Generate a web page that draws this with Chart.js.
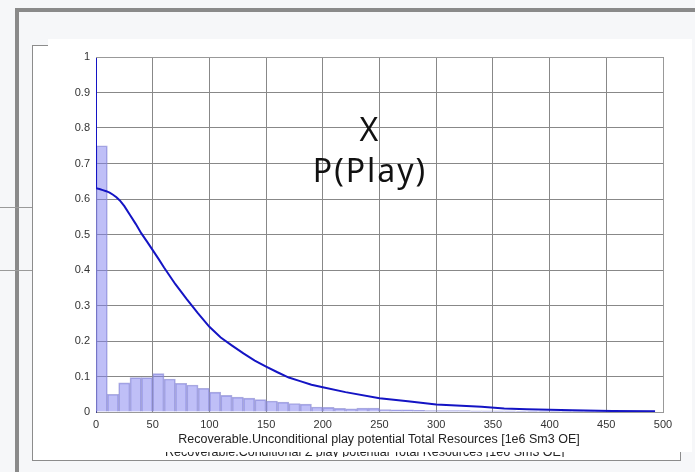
<!DOCTYPE html>
<html>
<head>
<meta charset="utf-8">
<script src="https://cdn.jsdelivr.net/npm/chart.js@4.4.1/dist/chart.umd.min.js"></script>
<style>
  html, body { margin: 0; padding: 0; }
  body { width: 695px; height: 472px; background: #f6f7f9; position: relative; overflow: hidden; font-family: "Liberation Sans", Arial, sans-serif; }
  .abs { position: absolute; box-sizing: border-box; }
  #thick { left: 15px; top: 8px; width: 720px; height: 520px; border-top: 4px solid #8a8a8a; border-left: 4px solid #8a8a8a; }
  #sidebox { left: -2px; top: 207px; width: 39px; height: 64px; border: 1px solid #9a9a9a; }
  #thinrect { left: 32px; top: 45px; width: 649px; height: 416px; border: 1px solid #8c8c8c; background: #ffffff; }
  #panel { left: 48px; top: 39px; width: 644px; height: 413px; background: #ffffff; }
  #chartwrap { left: 0; top: 0; width: 695px; height: 472px; }
  .ann { position: absolute; color: #111; font-family: "Noto Sans", "Open Sans", sans-serif; font-size: 32px; letter-spacing: 2px; white-space: nowrap; line-height: 1; transform: translateX(-50%); }
  .xtitle { position: absolute; color: #222; font-size: 12.5px; white-space: nowrap; line-height: 1; }
  #clip2 { left: 150px; top: 452px; width: 440px; height: 5px; overflow: hidden; }
</style>
</head>
<body>
<div id="thick" class="abs"></div>
<div id="sidebox" class="abs"></div>
<div id="thinrect" class="abs"></div>
<div id="panel" class="abs"></div>
<div id="chartwrap" class="abs"><canvas id="c" width="695" height="472"></canvas></div>
<div class="ann" style="left:370px; top:113px;">X</div>
<div class="ann" style="left:370px; top:154px;">P(Play)</div>
<div class="xtitle" style="left:379px; top:433px; transform: translateX(-50%);">Recoverable.Unconditional play potential Total Resources [1e6 Sm3 OE]</div>
<div id="clip2" class="abs"><div class="xtitle" style="left:15px; top:-6px;">Recoverable.Conditional Σ play potential Total Resources [1e6 Sm3 OE]</div></div>
<script>
// Histogram bin centres (units: 1e6 Sm3 OE) and relative frequencies
const histCenters = [5, 15, 25, 35, 45, 55, 65, 75, 85, 95,
  105, 115, 125, 135, 145, 155, 165, 175, 185, 195,
  205, 215, 225, 235, 245, 255, 265, 275, 285, 295,
  305, 315, 325, 335, 345, 355, 365, 375, 385, 395,
  405, 415, 425, 435, 445, 455, 465, 475, 485, 495];
const histValues = [0.75, 0.05, 0.082, 0.097, 0.097, 0.108, 0.093, 0.081, 0.076, 0.067,
  0.056, 0.047, 0.042, 0.039, 0.035, 0.031, 0.028, 0.024, 0.022, 0.014,
  0.013, 0.010, 0.009, 0.011, 0.011, 0.007, 0.006, 0.006, 0.005, 0.004,
  0.004, 0.004, 0.004, 0.003, 0.003, 0.003, 0.003, 0.002, 0.002, 0.002,
  0.002, 0.002, 0.002, 0.001, 0.001, 0.001, 0.001, 0.001, 0.001, 0.0];

// Exceedance probability curve
const curveX = [0, 0, 3, 6, 9, 12, 15, 18, 21, 25, 30, 35, 40, 45, 50, 55, 60, 70, 80, 90, 100,
  110, 120, 130, 140, 150, 160, 170, 180, 190, 200, 220, 250, 275, 300, 340, 360, 380, 420, 455, 493];
const curveY = [1.0, 0.63, 0.628, 0.625, 0.622, 0.618, 0.612, 0.605, 0.596, 0.58, 0.555, 0.53, 0.503, 0.48, 0.456, 0.432, 0.407, 0.36, 0.318, 0.278, 0.24,
  0.21, 0.187, 0.165, 0.145, 0.128, 0.112, 0.097, 0.087, 0.077, 0.070, 0.056, 0.039, 0.030, 0.021, 0.015, 0.010, 0.0075, 0.005, 0.003, 0.002];

// Axis ticks
const xTicks = [0, 50, 100, 150, 200, 250, 300, 350, 400, 450, 500];
const yTicks = [0, 0.1, 0.2, 0.3, 0.4, 0.5, 0.6, 0.7, 0.8, 0.9, 1];

const histData = histCenters.map((x, i) => ({ x: x, y: histValues[i] }));
const curveData = curveX.map((x, i) => ({ x: x, y: curveY[i] }));

const tickFont = { family: "'Liberation Sans', Arial, sans-serif", size: 11 };

new Chart(document.getElementById('c'), {
  data: {
    datasets: [
      {
        type: 'line',
        data: curveData,
        borderColor: '#1414c4',
        borderWidth: 2,
        pointRadius: 0,
        tension: 0,
        fill: false,
        order: 0
      },
      {
        type: 'bar',
        data: histData,
        backgroundColor: 'rgba(128,128,240,0.5)',
        borderColor: 'rgba(140,140,210,0.7)',
        borderWidth: 1,
        barPercentage: 1,
        categoryPercentage: 1,
        order: 1
      }
    ]
  },
  options: {
    responsive: false,
    animation: false,
    events: [],
    layout: { padding: { left: 0, top: 57, right: 32, bottom: 0 } },
    plugins: { legend: { display: false }, tooltip: { enabled: false }, title: { display: false } },
    scales: {
      x: {
        type: 'linear',
        min: 0, max: 500,
        offset: false,
        afterBuildTicks: (s) => { s.ticks = xTicks.map(v => ({ value: v })); },
        afterFit: (s) => { s.height = 60; },
        grid: { color: '#888888', lineWidth: 1, drawTicks: false, offset: false },
        border: { color: '#999999', width: 1 },
        ticks: { color: '#333333', font: tickFont, padding: 6, maxRotation: 0, autoSkip: false,
                 callback: (v) => String(v) }
      },
      y: {
        type: 'linear',
        min: 0, max: 1,
        afterBuildTicks: (s) => { s.ticks = yTicks.map(v => ({ value: v })); },
        afterFit: (s) => { s.width = 96; },
        grid: { color: '#888888', lineWidth: 1, drawTicks: false },
        border: { color: '#3c3c8c', width: 1 },
        ticks: { color: '#333333', font: tickFont, padding: 6, autoSkip: false,
                 callback: (v) => String(Number(Number(v).toFixed(1))) }
      }
    }
  },
  plugins: [{
    id: 'frame',
    afterDraw(chart) {
      const { ctx, chartArea: a } = chart;
      ctx.save();
      ctx.strokeStyle = '#999999';
      ctx.lineWidth = 1;
      ctx.beginPath();
      ctx.moveTo(a.left, a.top + 0.5);
      ctx.lineTo(a.right + 0.5, a.top + 0.5);
      ctx.lineTo(a.right + 0.5, a.bottom);
      ctx.stroke();
      ctx.restore();
    }
  }]
});
</script>
</body>
</html>
